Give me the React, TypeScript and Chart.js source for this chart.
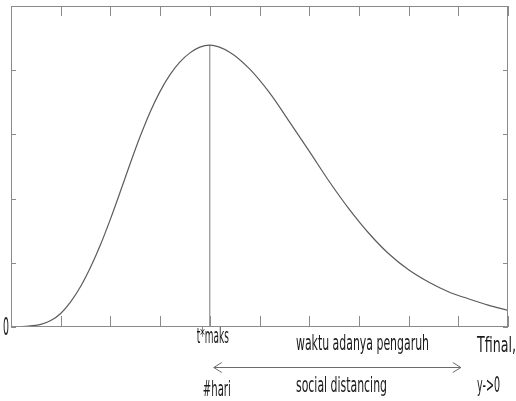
import React, { useEffect, useRef } from "react";
import { Chart, registerables } from "chart.js";

Chart.register(...registerables);

// Curve samples (x in "day" units 0..10, y in axis units 0..5)
const xValues = [0, 0.3, 0.6, 0.8, 1.0, 1.2, 1.4, 1.6, 1.8, 2.0, 2.2, 2.4, 2.6, 2.8, 3.0, 3.2, 3.4, 3.6, 3.8, 4.0, 4.4, 4.8, 5.2, 5.6, 6.0, 6.4, 6.8, 7.2, 7.6, 8.0, 8.4, 8.8, 9.2, 9.6, 10];
const yValues = [0, 0.01, 0.04, 0.1, 0.21, 0.39, 0.63, 0.93, 1.28, 1.68, 2.11, 2.55, 2.97, 3.35, 3.67, 3.93, 4.13, 4.27, 4.36, 4.39, 4.28, 4.02, 3.65, 3.2, 2.74, 2.27, 1.84, 1.46, 1.14, 0.89, 0.7, 0.55, 0.44, 0.34, 0.26];

const peakX = 4;
const peakY = 4.39;

const xTicks = [0, 1, 2, 3, 4, 5, 6, 7, 8, 9, 10];
const yTicks = [0, 1, 2, 3, 4, 5];
const yTickLabels = ["0"];

const arrowFrom = 4.08;
const arrowTo = 9.05;

const annotationTexts = ["t*maks", "#hari", "waktu adanya pengaruh", "social distancing", "Tfinal,", "y->0"];

const FONT = '"Liberation Sans Narrow", "DejaVu Sans Condensed", "Liberation Sans", sans-serif';

const framePlugin = {
  id: "framePlugin",
  afterDraw(chart: any) {
    const { ctx, chartArea, scales } = chart;
    const { left, right, top, bottom } = chartArea;
    const xs = scales.x;
    const ys = scales.y;
    ctx.save();
    ctx.strokeStyle = "#8a8a8a";
    ctx.lineWidth = 1;
    ctx.strokeRect(left + 0.5, top + 0.5, right - left - 1, bottom - top - 1);
    ctx.beginPath();
    for (const v of xTicks) {
      const px = Math.round(xs.getPixelForValue(v)) + 0.5;
      ctx.moveTo(px, bottom);
      ctx.lineTo(px, bottom - 11);
      ctx.moveTo(px, top);
      ctx.lineTo(px, top + 10);
    }
    for (const v of yTicks) {
      const py = Math.round(ys.getPixelForValue(v)) + 0.5;
      ctx.moveTo(left, py);
      ctx.lineTo(left + 5, py);
      ctx.moveTo(right, py);
      ctx.lineTo(right - 5, py);
    }
    ctx.stroke();

    // Text drawn at fixed widths (narrow, tall font look)
    const drawText = (text: string, x: number, baseline: number, width: number, size: number) => {
      ctx.font = `${size}px ${FONT}`;
      const m = ctx.measureText(text).width;
      ctx.save();
      ctx.translate(x, baseline);
      ctx.scale(width / m, 1);
      ctx.fillStyle = "#1a1a1a";
      ctx.textAlign = "left";
      ctx.textBaseline = "alphabetic";
      ctx.fillText(text, 0, 0);
      ctx.restore();
    };

    drawText(yTickLabels[0], 3, ys.getPixelForValue(0) + 8, 6, 24);

    const px4 = xs.getPixelForValue(peakX);
    drawText(annotationTexts[0], px4 - 13, bottom + 16, 32, 22);
    drawText(annotationTexts[1], px4 - 7, bottom + 69, 28, 22);
    drawText(annotationTexts[2], 296, bottom + 23, 133, 22);
    drawText(annotationTexts[3], 296, bottom + 65, 91, 22);
    drawText(annotationTexts[4], 477, bottom + 25, 39, 22);
    drawText(annotationTexts[5], 477, bottom + 65, 23, 22);

    // double arrow
    const ax1 = xs.getPixelForValue(arrowFrom);
    const ax2 = xs.getPixelForValue(arrowTo);
    const ay = bottom + 40.5;
    ctx.strokeStyle = "#6a6a6a";
    ctx.lineWidth = 1;
    ctx.beginPath();
    ctx.moveTo(ax1, ay);
    ctx.lineTo(ax2, ay);
    ctx.moveTo(ax1 + 8, ay - 5);
    ctx.lineTo(ax1, ay);
    ctx.lineTo(ax1 + 8, ay + 5);
    ctx.moveTo(ax2 - 8, ay - 5);
    ctx.lineTo(ax2, ay);
    ctx.lineTo(ax2 - 8, ay + 5);
    ctx.stroke();
    ctx.restore();
  },
};

export default function App() {
  const canvasRef = useRef<HTMLCanvasElement | null>(null);

  useEffect(() => {
    if (!canvasRef.current) return;
    const chart = new Chart(canvasRef.current, {
      type: "line",
      data: {
        datasets: [
          {
            data: xValues.map((x, i) => ({ x, y: yValues[i] })),
            borderColor: "#5c5c5c",
            borderWidth: 1.2,
            pointRadius: 0,
            cubicInterpolationMode: "monotone",
            fill: false,
          },
          {
            data: [
              { x: peakX, y: 0 },
              { x: peakX, y: peakY },
            ],
            borderColor: "#7a7a7a",
            borderWidth: 1,
            pointRadius: 0,
            fill: false,
          },
        ],
      },
      options: {
        animation: false,
        responsive: false,
        devicePixelRatio: 1,
        layout: { padding: { left: 11, right: 8, top: 6, bottom: 74 } },
        plugins: { legend: { display: false }, tooltip: { enabled: false } },
        scales: {
          x: { type: "linear", min: 0, max: 10, display: false },
          y: { type: "linear", min: 0, max: 5, display: false },
        },
      },
      plugins: [framePlugin],
    });
    return () => chart.destroy();
  }, []);

  return (
    <div style={{ position: "absolute", left: 0, top: 0, width: 516, height: 401, background: "#fff" }}>
      <canvas ref={canvasRef} width={516} height={401} style={{ display: "block" }} />
    </div>
  );
}
